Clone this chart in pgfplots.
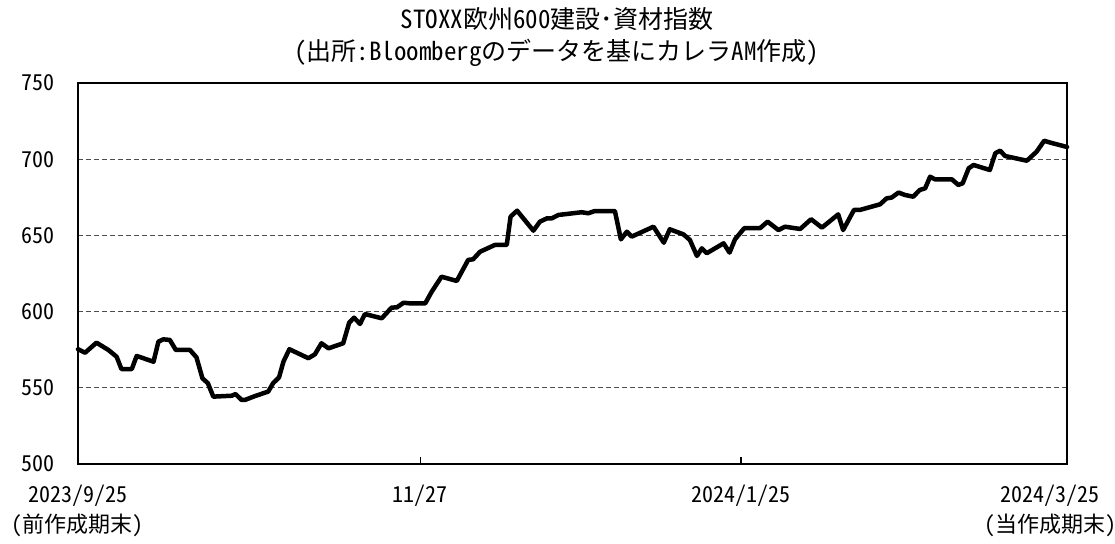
\documentclass[border=0pt]{standalone}
\usepackage{fontspec}
\setmainfont{Noto Sans CJK JP}[RawFeature=+hwid]
\usepackage{pgfplots}
\pgfplotsset{compat=1.18}
\pgfplotstableread{
d v
0 575.3
1.3 573.0
3.4 579.6
5.6 574.8
7.1 570.4
8.0 562.3
9.9 562.3
10.8 570.9
13.9 567.1
14.8 580.3
15.7 581.8
16.9 581.4
18.0 574.8
20.6 574.8
21.8 570.0
22.9 556.2
23.9 553.0
24.9 544.2
28.3 544.8
29.0 545.9
30.1 542.0
30.7 542.0
32.6 544.6
35.0 547.5
35.9 553.0
37.0 556.9
37.8 567.1
38.9 575.3
42.4 569.4
43.6 572.0
44.8 579.2
46.1 575.9
48.8 579.2
49.9 592.7
50.8 596.0
51.9 591.9
52.8 598.4
55.9 595.6
57.7 602.6
58.7 602.8
59.9 605.8
61.1 605.4
63.9 605.4
65.1 613.1
66.9 622.9
69.7 620.1
71.8 633.9
72.7 634.3
74.0 639.3
76.7 643.7
78.9 643.7
79.6 662.3
80.8 666.2
83.8 653.1
85.0 659.0
86.3 661.2
87.2 661.2
88.4 663.4
92.7 665.2
93.9 664.5
95.1 666.0
98.8 666.0
99.9 647.4
101.0 652.4
101.9 649.2
105.9 655.7
107.8 645.2
108.9 654.0
111.4 650.7
112.6 647.0
113.9 636.5
114.8 641.5
115.7 638.3
118.8 644.8
119.9 638.7
120.9 647.4
122.6 654.7
125.5 654.7
126.9 659.0
128.9 653.5
130.1 655.7
132.9 654.2
134.9 660.6
136.9 655.1
139.9 663.8
140.8 653.5
142.8 666.7
143.9 666.7
147.6 670.4
148.8 674.3
149.7 674.8
151.0 678.1
152.2 676.5
153.7 675.4
154.9 679.8
155.9 680.9
156.8 688.5
157.7 686.8
160.8 686.8
162.0 683.1
162.8 684.2
163.9 694.0
164.8 696.2
167.8 692.9
168.8 703.9
169.7 705.6
170.6 702.1
174.6 699.0
176.4 704.9
177.8 712.1
178.9 710.9
182.0 708.0
}\datatable
\begin{document}
\fontsize{22bp}{27bp}\selectfont
\begin{tikzpicture}[x=1bp,y=1bp]
\useasboundingbox (-78,-80) rectangle (1037,464);
\begin{axis}[
  scale only axis, width=989bp, height=381bp,
  at={(0,0)}, anchor=south west,
  xmin=0, xmax=182, ymin=500, ymax=750,
  ytick={500,550,600,650,700,750},
  xtick={0,63,122},
  xticklabels={{2023/9/25\\(前作成期末)},{11/27},{2024/1/25}},
  extra x ticks={182},
  extra x tick labels={{2024/3/25\\(当作成期末)}},
  extra x tick style={xticklabel style={xshift=-17bp}},
  xticklabel style={align=center, font=\fontsize{22bp}{30bp}\selectfont, yshift=-14bp},
  yticklabel style={font=\fontsize{22bp}{27bp}\selectfont, xshift=-16bp},
  /pgf/number format/assume math mode=true,
  ymajorgrids, grid style={dash pattern=on 5bp off 3bp, black!70, line width=0.9bp},
  axis line style={line width=1.6bp},
  tick align=inside, major tick length=7bp,
  xtick style={black, line width=1.2bp},
  ytick style={draw=none},
  xtick pos=bottom,
  clip=false,
]
\addplot[black, line width=4.5bp, line join=round, line cap=round] table[x=d,y=v] {\datatable};
\node[align=center, font=\fontsize{25bp}{32bp}\selectfont] at (rel axis cs:0.4843,1) [yshift=46bp] {STOXX欧州600建設･資材指数\\(出所:Bloombergのデータを基にカレラAM作成)};
\end{axis}
\end{tikzpicture}
\end{document}
